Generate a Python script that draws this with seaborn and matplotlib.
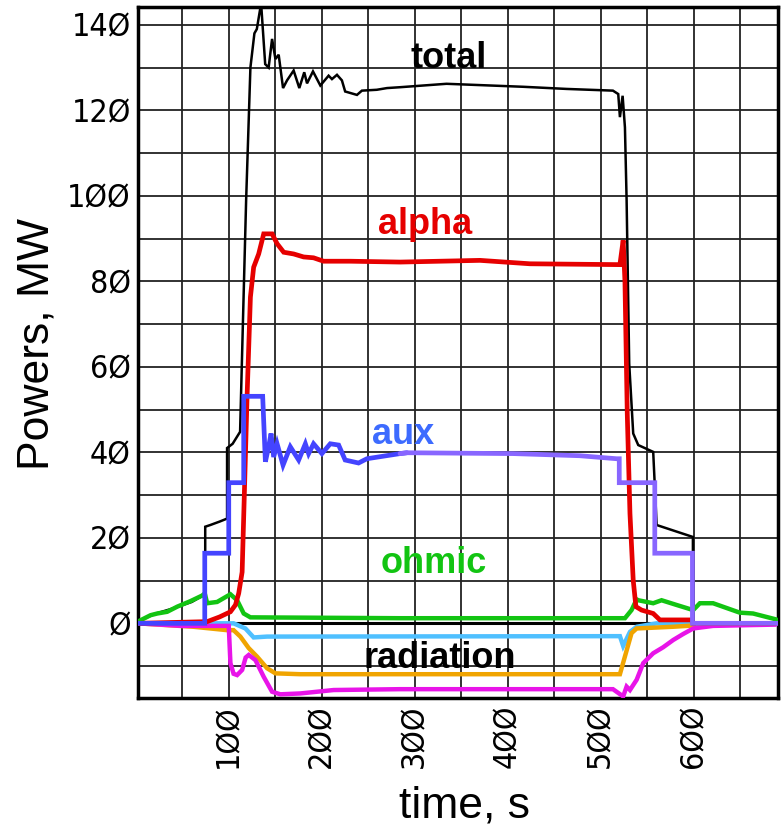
import numpy as np
import pandas as pd
import matplotlib
matplotlib.use("Agg")
import matplotlib.pyplot as plt
import seaborn as sns

# ---------------- data ----------------
total_t = [2, 20, 40, 60, 74.5, 74.5, 80, 90, 98, 98, 104, 112, 115.3, 118.5, 123.1, 127.4, 130,
           134.6, 139, 142.7, 146.4, 150, 153.5, 158.2, 162.5, 169.6, 175.7, 181, 184, 190.4,
           198.3, 207.2, 210.8, 216.2, 221.5, 225, 237.7, 243, 259, 270, 284, 334, 416.6, 463,
           513, 518.7, 520.5, 523.4, 525.9, 527.7, 530.5, 534.8, 540.2, 556.3, 560, 599, 599,
           606.5, 620.7, 649.4, 663.7, 688.8]
total_p = [0.4, 2.2, 3.5, 5.0, 6.8, 22.6, 23.0, 23.8, 24.5, 41.0, 42.0, 44.8, 72.5, 99.0, 130.0,
           138.0, 139.0, 145.0, 130.8, 130.0, 136.7, 132.0, 133.0, 125.2, 127.0, 129.3, 125.2,
           128.9, 126.3, 129.1, 125.8, 128.1, 127.3, 128.3, 127.0, 124.4, 123.6, 124.6, 124.8,
           125.2, 125.4, 126.2, 125.5, 125.0, 124.6, 123.8, 118.4, 123.4, 116.0, 99.0, 60.7,
           44.4, 41.7, 40.1, 23.0, 20.2, 3.1, 4.7, 4.7, 2.5, 2.3, 0.9]

alpha_t = [2, 76.6, 90, 101.6, 107, 110.5, 114.2, 117, 119.5, 123.1, 126.6, 132, 137.4, 146.4,
           151.8, 158.9, 169.6, 180.3, 191, 201.8, 230.5, 284, 370, 423.7, 520.5, 524, 525.9,
           528.4, 531.3, 534.8, 537.7, 543.8, 556.3, 563.5, 597.5, 599, 688]
alpha_p = [0, 0.4, 1.5, 2.7, 4.3, 7.0, 12.0, 33.5, 53.0, 76.3, 83.3, 86.4, 91.1, 91.1, 88.8,
           86.8, 86.4, 85.7, 85.5, 84.7, 84.7, 84.5, 84.9, 84.1, 83.9, 89.6, 80.0, 49.0, 25.7,
           10.1, 3.9, 3.1, 2.3, 0.8, 0.8, 0, 0]

aux_t = [2, 74, 74, 99.8, 99.8, 115.9, 115.9, 136.3, 139.2, 142.7, 145.3, 148.1, 151.8, 158.2,
         166, 175, 182.2, 185.7, 191, 200, 209, 218, 225, 239.4, 248.4, 284, 291.4]
aux_p = [0, 0, 16.4, 16.4, 32.9, 32.9, 53.1, 53.1, 37.8, 41.3, 44.4, 38.9, 42.0, 37.0, 41.3,
         38.2, 42.0, 39.7, 42.0, 39.7, 42.0, 41.7, 38.2, 37.5, 38.5, 39.7, 39.9]

auxr_t = [284, 291.4, 405.8, 477.5, 517, 519.8, 519.8, 558, 558, 598.5, 598.5, 690]
auxr_p = [39.7, 39.9, 39.7, 39.2, 38.5, 38.5, 32.9, 32.9, 16.4, 16.4, 0, 0]

ohm_t = [2, 15.7, 22.9, 33.6, 44.4, 58.7, 71.2, 74, 76.6, 87.3, 101.6, 108.8, 115.9, 123.1, 284,
         525.9, 533, 538.5, 540.2, 556.3, 565.3, 581.4, 599.3, 606.5, 620.7, 649.4, 663.7, 688.8]
ohm_p = [0.4, 1.9, 2.3, 2.7, 3.9, 5.2, 6.5, 7.0, 4.7, 5.0, 6.8, 5.4, 2.3, 1.4, 1.2, 1.2, 3.1,
         5.6, 5.4, 4.7, 5.4, 4.3, 3.1, 4.7, 4.7, 2.5, 2.3, 0.9]

rad1_t = [2, 105, 117.7, 126.6, 141, 520.5, 524, 531.3, 538.5, 560, 600]
rad1_p = [0, 0, -1.2, -3.3, -3.1, -3.0, -5.3, -2.0, -0.8, 0, 0]

rad2_t = [2, 61.7, 98, 105, 112.3, 121.3, 130.3, 141, 150, 176.8, 520.5, 533, 538.5, 577.8, 600]
rad2_p = [0, -0.8, -1.6, -1.6, -3.1, -5.8, -7.8, -10.5, -11.7, -11.9, -11.9, -2.3, -1.2, -0.8, -0.5]

rad3_t = [2, 50, 99.8, 101.6, 105, 108.8, 114.2, 118, 121.3, 128.5, 137.4, 146.4, 155.3, 176.8,
          212.6, 284, 513, 524, 527.7, 531.3, 538.5, 545.6, 556.3, 567, 577.8, 588.5, 599.3,
          620.7, 663.7, 688]
rad3_p = [0, -0.6, -0.6, -9.3, -11.8, -12.1, -10.9, -8.0, -7.4, -8.6, -12.5, -16.0, -16.6,
          -16.4, -15.6, -15.4, -15.4, -17.1, -14.8, -15.6, -13.2, -9.3, -7.0, -5.6, -3.9, -2.5,
          -1.2, -0.6, -0.4, -0.3]

y_ticks = [0, 20, 40, 60, 80, 100, 120, 140]
y_ticklabels = ["Ø", "2Ø", "4Ø", "6Ø", "8Ø", "1ØØ", "12Ø", "14Ø"]
x_ticks = [100, 200, 300, 400, 500, 600]
x_ticklabels = ["1ØØ", "2ØØ", "3ØØ", "4ØØ", "5ØØ", "6ØØ"]

# ---------------- plot ----------------
sns.set_theme(style="white")
plt.rcParams['font.family'] = ['Liberation Sans', 'DejaVu Sans']
plt.rcParams['text.color'] = 'black'
plt.rcParams['axes.labelcolor'] = 'black'
plt.rcParams['xtick.color'] = 'black'
plt.rcParams['ytick.color'] = 'black'

fig = plt.figure(figsize=(7.83, 8.26), dpi=100)
ax = fig.add_axes([0.176, 0.1553, 0.817, 0.8359])

def draw(t, p, color, lw, z):
    df = pd.DataFrame({"t": t, "p": p})
    sns.lineplot(data=df, x="t", y="p", ax=ax, color=color, lw=lw, sort=False,
                 estimator=None, zorder=z, solid_joinstyle='miter')

draw(total_t, total_p, "black", 1.8, 3)
draw(ohm_t, ohm_p, "#12c412", 3.2, 4)
draw(rad1_t, rad1_p, "#4fc0ff", 3.2, 4)
draw(rad2_t, rad2_p, "#f0a400", 3.2, 4)
draw(rad3_t, rad3_p, "#e814e8", 3.2, 4)
draw(alpha_t, alpha_p, "#e60000", 3.4, 5)
draw(aux_t, aux_p, "#4444ff", 3.4, 6)
draw(auxr_t, auxr_p, "#8866ff", 3.4, 6)

ax.set_xlim(2, 690)
ax.set_ylim(-17.4, 144.1)

tick_font = dict(fontsize=23, family='DejaVu Sans', stretch='condensed', weight='normal',
                 color='black')
ax.set_xticks(x_ticks)
ax.set_xticks(np.arange(50, 690, 50), minor=True)
ax.set_yticks(y_ticks)
ax.set_yticks(np.arange(-10, 141, 10), minor=True)
ax.set_xticklabels(x_ticklabels, rotation=90, **tick_font)
ax.set_yticklabels(y_ticklabels, **tick_font)
ax.tick_params(which='both', length=0, pad=5)
ax.grid(which='both', color='#222222', lw=1.3, zorder=0)
ax.set_axisbelow(True)
ax.axhline(0, color='black', lw=2.2, zorder=2)
for s in ax.spines.values():
    s.set_color('black')
    s.set_linewidth(2.5)
    s.set_visible(True)

ax.set_xlabel("time, s", fontsize=32, color='black', va='center')
ax.set_ylabel("Powers, MW", fontsize=32, color='black', va='center')
ax.xaxis.set_label_coords(0.51, -0.157)
ax.yaxis.set_label_coords(-0.157, 0.512)

ax.text(336.5, 130, "total", color="black", fontsize=26, weight='bold', ha='center', va='baseline', zorder=7)
ax.text(311, 91.1, "alpha", color="#e60000", fontsize=26, weight='bold', ha='center', va='baseline', zorder=7)
ax.text(287, 42, "aux", color="#3d6bff", fontsize=26, weight='bold', ha='center', va='baseline', zorder=7)
ax.text(320, 11.7, "ohmic", color="#12c412", fontsize=26, weight='bold', ha='center', va='baseline', zorder=7)
ax.text(326.7, -10.4, "radiation", color="black", fontsize=26, weight='bold', ha='center', va='baseline', zorder=7)

fig.savefig("out.png", dpi=100)
